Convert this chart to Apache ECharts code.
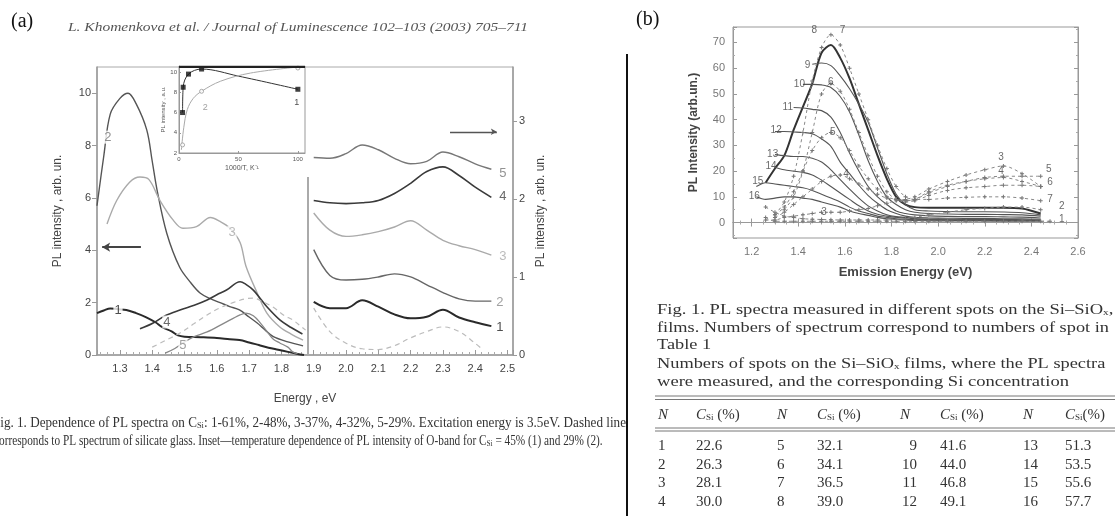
<!DOCTYPE html>
<html><head><meta charset="utf-8">
<script src="https://cdn.jsdelivr.net/npm/echarts@6/dist/echarts.min.js"></script>
<style>html,body{margin:0;padding:0;background:#fff}#c{width:1115px;height:516px}</style>
</head><body><div id="c"></div>
<script>
// ================= Panel (a): left-axis spectra (Energy eV, PL intensity) =================
const a1L = [[1.229,1.6],[1.25,1.7],[1.27,1.78],[1.294,1.75],[1.32,1.72],[1.35,1.6],[1.38,1.45],[1.41,1.25],[1.43,1.07],[1.46,0.9],[1.48,0.75],[1.50,0.7],[1.55,0.68],[1.60,0.65],[1.64,0.6],[1.67,0.57],[1.70,0.48],[1.73,0.38],[1.76,0.28],[1.79,0.2],[1.82,0.12],[1.85,0.04],[1.87,0.0]];
const a2L = [[1.229,5.7],[1.25,7.6],[1.27,9.2],[1.30,9.8],[1.325,10.0],[1.35,9.6],[1.383,8.6],[1.40,7.4],[1.415,6.3],[1.445,4.65],[1.485,3.35],[1.52,2.75],[1.548,2.37],[1.58,2.15],[1.61,2.0],[1.64,1.85],[1.67,1.72],[1.70,1.45],[1.725,1.22],[1.75,0.95],[1.775,0.7],[1.82,0.5],[1.867,0.35]];
const a3L = [[1.26,5.0],[1.29,5.9],[1.33,6.6],[1.362,6.8],[1.39,6.7],[1.424,5.9],[1.465,5.15],[1.495,4.84],[1.537,4.9],[1.58,5.25],[1.61,5.1],[1.64,4.85],[1.672,4.3],[1.69,3.4],[1.725,2.37],[1.755,1.6],[1.795,1.07],[1.83,0.8],[1.867,0.57]];
const a4L = [[1.362,1.0],[1.40,1.2],[1.44,1.5],[1.486,1.72],[1.53,1.9],[1.57,2.1],[1.60,2.3],[1.63,2.48],[1.672,2.8],[1.69,2.7],[1.713,2.48],[1.735,2.15],[1.755,1.84],[1.795,1.34],[1.83,1.05],[1.865,0.8]];
const a5L = [[1.44,0.07],[1.47,0.25],[1.50,0.5],[1.53,0.7],[1.57,0.88],[1.62,1.2],[1.672,1.53],[1.69,1.6],[1.713,1.5],[1.735,1.22],[1.755,0.9],[1.775,0.6],[1.795,0.46],[1.82,0.3],[1.835,0.12],[1.85,0.05]];
const aGlassL = [[1.40,0.3],[1.44,0.55],[1.486,0.84],[1.53,1.2],[1.57,1.53],[1.61,1.8],[1.65,2.0],[1.69,2.15],[1.713,2.17],[1.74,2.05],[1.775,1.82],[1.81,1.5],[1.835,1.34],[1.86,1.1],[1.875,0.95]];
// ================= Panel (a): right-axis spectra =================
const aER = [1.90,1.95,2.00,2.05,2.10,2.15,2.20,2.25,2.30,2.35,2.40,2.45];
const a5R = [2.53,2.52,2.58,2.69,2.63,2.52,2.45,2.48,2.60,2.54,2.45,2.38];
const a4R = [1.98,1.95,1.94,1.95,1.98,2.07,2.20,2.35,2.41,2.30,2.15,2.02];
const a3R = [1.82,1.60,1.52,1.54,1.58,1.64,1.72,1.60,1.47,1.40,1.35,1.28];
const a2R = [1.35,1.02,0.96,0.97,1.00,1.04,1.00,0.90,0.80,0.72,0.69,0.69];
const a1R = [0.68,0.60,0.60,0.70,0.62,0.52,0.47,0.49,0.58,0.48,0.42,0.37];
const aGlassER = [1.90,1.95,2.00,2.05,2.10,2.15,2.20,2.25,2.30,2.35,2.40,2.42];
const aGlassR = [0.60,0.30,0.15,0.08,0.07,0.12,0.22,0.30,0.36,0.30,0.15,0.08];
// curve number labels [E, value, text]
const aLabelsL = [[1.263,8.32,'2'],[1.647,4.69,'3'],[1.4455,1.26,'4'],[1.495,0.38,'5'],[1.294,1.72,'1']];
const aLabelsR = [[2.486,2.33,'5'],[2.486,2.03,'4'],[2.486,1.26,'3'],[2.476,0.67,'2'],[2.476,0.35,'1']];
// ================= Inset: PL intensity vs 1000/T =================
const inset1Pts = [[3,6.0],[3.5,8.5],[8,9.8],[19,10.3],[100,8.3]];
const inset1Line = [[3,6.0],[3.5,8.5],[8,9.8],[19,10.3],[50,9.6],[100,8.3]];
const inset2Pts = [[3,2.8],[19,8.1],[100,10.4]];
const inset2Line = [[2,2.3],[4,4.5],[7,6.3],[12,7.4],[19,8.1],[35,9.1],[60,9.9],[100,10.5]];
const insetLabels = [[22,6.5,'2'],[99,7.0,'1']];
// ================= Panel (b): PL spectra at 16 spots =================
const bE = [1.22,1.26,1.30,1.34,1.38,1.42,1.46,1.50,1.54,1.58,1.62,1.66,1.70,1.74,1.78,1.82,1.86,1.90,1.96,2.04,2.12,2.20,2.28,2.36,2.44,2.48];
const b8  = [null,15.5,21,26,36,45,54,66,69,64,56,46,36,26,17,10,7,6,5.8,5.8,5.8,5.8,5.8,5.5,3.5,null];
const b9  = [null,null,null,null,null,null,61.5,62,61,57,52,46,39,29,19,11,7,5,4.5,4.3,4.2,4.2,4.1,3.8,3,null];
const b10 = [null,null,null,null,null,53.7,53.7,53.5,52.5,49,43,34,24,16,10,7,5,4,3.5,3.3,3.2,3.2,3.1,3,2.5,null];
const b11 = [null,null,null,null,44.7,44.5,44,43.5,41,35,27,20,14,10,7,4.5,3.5,3,2.6,2.4,2.3,2.3,2.2,2.1,1.8,null];
const b12 = [null,null,35.4,35.4,35.2,35,34.5,32.5,29.6,23.5,19,14.5,10.5,7.5,5,3.5,2.5,2,1.8,1.7,1.6,1.6,1.5,1.5,1.3,null];
const b13 = [null,null,26.4,26,25.7,25.7,25,23.5,20.5,16.7,13,9.5,6.5,4.5,3,2.3,2,1.6,1.4,1.3,1.2,1.2,1.2,1.1,1,null];
const b14 = [null,null,21.5,20.5,20,19.5,18.5,16.5,14,11.5,9,6.5,4.5,3.2,2.5,2,1.8,1.4,1.2,1.1,1,1,1,0.9,0.8,null];
const b15 = [14,15.5,15,14.5,14,13.5,12.5,11,9.5,8,6,4.5,3.5,2.5,2,1.5,1.3,1.1,1,0.9,0.8,0.8,0.8,0.7,0.7,null];
const b16 = [10,9,9.5,10,10,9.5,9,8,7,6,4.5,3.5,2.8,2,1.5,1.2,1,0.8,0.7,0.6,0.6,0.6,0.5,0.5,0.5,null];
const b7  = [null,null,3,8,18,35,55,68,73,69,60,50,40,30,21,14,10,9,9,9.5,9.8,10,10,9.5,8.5,null];
const b6  = [null,null,null,5,10,20,35,50,54,51,44,35,26,18,12,9,8,8.5,10.5,12.5,13.5,14,14.5,14.5,14,null];
const b5  = [null,null,3,6,12,20,28,33,35,33,28,22,17,13,10,9,8.5,9,11.5,14,16,17.5,18,18,18,null];
const b4  = [null,null,2,4,7,10,13,16,18,18.5,17,15,13,11,9.5,9,8.5,9,12,14.5,16,17,17.5,16,14,null];
const b3  = [null,1,1,2,2.5,3,3.5,4,4,4,4.5,5,5.5,6.5,7.5,8.5,9,10,13,16,18.5,20.5,22,19,14,null];
const b2  = [null,6,4,2.5,2,1.5,1.3,1.2,1.1,1,1,1,1,1,1,1.2,1.5,2,3,4,5,5.5,6,6,5,null];
const b1  = [null,2,0.5,0.5,0.5,0.5,0.5,0.5,0.5,0.5,0.5,0.5,0.5,0.5,0.5,0.5,0.5,0.5,0.5,0.5,0.5,0.5,0.5,0.5,0.5,0.5];
const bLabels = [[1.469,74.6,'8'],[1.59,74.6,'7'],[1.44,61,'9'],[1.405,53.8,'10'],[1.54,54.5,'6'],[1.355,44.7,'11'],[1.305,35.7,'12'],[1.548,35,'5'],[1.29,26.6,'13'],[1.283,22,'14'],[1.605,18.8,'4'],[1.226,16.2,'15'],[1.211,10.4,'16'],[1.51,3.9,'3'],[2.27,25.2,'3'],[2.27,19.8,'4'],[2.475,20.6,'5'],[2.48,15.6,'6'],[2.48,9,'7'],[2.53,6.2,'2'],[2.53,1.2,'1']];
// ================= Table 1 =================
const tN = [[1,2,3,4],[5,6,7,8],[9,10,11,12],[13,14,15,16]];
const tC = [['22.6','26.3','28.1','30.0'],['32.1','34.1','36.5','39.0'],['41.6','44.0','46.8','49.1'],['51.3','53.5','55.6','57.7']];
const capA = ['Fig. 1. Dependence of PL spectra on C{s|Si}: 1-61%, 2-48%, 3-37%, 4-32%, 5-29%. Excitation energy is 3.5eV. Dashed line',
  'corresponds to PL spectrum of silicate glass. Inset\u2014temperature dependence of PL intensity of O-band for C{s|Si} = 45% (1) and 29% (2).'];
const capB = ['Fig. 1. PL spectra measured in different spots on the Si\u2013SiO{s|x},',
  'films. Numbers of spectrum correspond to numbers of spot in',
  'Table 1',
  'Numbers of spots on the Si\u2013SiO{s|x} films, where the PL spectra',
  'were measured, and the corresponding Si concentration'];

// ---------- helpers ----------
const cv = document.createElement('canvas').getContext('2d');
function tw(t, font){ cv.font = font; return cv.measureText(t.replace(/\{s\|([^}]*)\}/g,'$1')).width; }
const SERIF = '"Liberation Serif","DejaVu Serif",serif';
const SANS = '"Liberation Sans",Arial,sans-serif';
const plus = 'path://M3,0h2v3h3v2h-3v3h-2v-3h-3v-2h3z';
function zipE(xs, ys){ return xs.map((x,i)=>[x, ys[i]]); }
function txt(x, y, text, font, fill, align, extra){
  return Object.assign({type:'text', x, y, silent:true, z:100,
    style:{text, font, fill:fill||'#222', textAlign:align||'left', align:align||'left', textVerticalAlign:'middle', verticalAlign:'middle',
      rich:{s:{fontSize:9, fontFamily:SERIF, fill:fill||'#222', verticalAlign:'bottom', padding:[6,0,0,0]}}}}, extra||{});
}
function fitTxt(x, y, text, font, fill, width, align, cutPrefix){
  let w = tw(text, font); let cut = cutPrefix ? tw(cutPrefix, font) : 0;
  const sx = width / (w - cut);
  return txt(x, y, text, font, fill, align, {scaleX: sx});
}

const chart = echarts.init(document.getElementById('c'), null, {renderer:'canvas'});
const axCol = '#9a9a9a', txCol = '#444';

function lineS(name, data, xi, yi, color, width, opts){
  return Object.assign({type:'line', name, data, xAxisIndex:xi, yAxisIndex:yi, symbol:'none', smooth:0.35,
    lineStyle:{color, width}, itemStyle:{color}, z:3, silent:true}, opts||{});
}
function labelS(data, xi, yi, colorFn, fontSize, bg, z){
  return {type:'scatter', xAxisIndex:xi, yAxisIndex:yi, symbolSize:0, silent:true, z:z||6,
    data: data.map(d=>({name:d[2], value:[d[0],d[1]], label:{color:colorFn(d[2])}})),
    label:{show:true, position:'inside', formatter:'{b}', fontSize, fontFamily:SANS, backgroundColor:bg||'transparent', padding:[0,1]}};
}
const aLabColL = {'1':'#222','2':'#777','3':'#aaa','4':'#444','5':'#888'};
const aLabColR = {'1':'#222','2':'#888','3':'#aaa','4':'#444','5':'#777'};

const series = [
  lineS('1', a1L, 0, 0, '#2a2a2a', 2),
  lineS('2', a2L, 0, 0, '#555', 1.4),
  lineS('3', a3L, 0, 0, '#aaa', 1.4),
  lineS('4', a4L, 0, 0, '#3a3a3a', 1.6),
  lineS('5', a5L, 0, 0, '#888', 1.3),
  lineS('glass', aGlassL, 0, 0, '#bbb', 1.2, {lineStyle:{color:'#bbb', width:1.2, type:[5,4]},
    markLine:{silent:true, symbol:'none', label:{show:false}, lineStyle:{color:'#aaa', width:2, type:'solid'},
      data:[[{coord:[1.882,0]},{coord:[1.882,6.8]}]]}}),
  lineS('5R', zipE(aER,a5R), 0, 1, '#777', 1.4),
  lineS('4R', zipE(aER,a4R), 0, 1, '#3a3a3a', 1.6),
  lineS('3R', zipE(aER,a3R), 0, 1, '#aaa', 1.4),
  lineS('2R', zipE(aER,a2R), 0, 1, '#666', 1.4),
  lineS('1R', zipE(aER,a1R), 0, 1, '#2a2a2a', 2),
  lineS('glassR', zipE(aGlassER,aGlassR), 0, 1, '#bbb', 1.2, {lineStyle:{color:'#bbb', width:1.2, type:[5,4]}}),
  labelS(aLabelsL, 0, 0, t=>aLabColL[t], 13, '#fff'),
  labelS(aLabelsR, 0, 1, t=>aLabColR[t], 13, '#fff'),
  // arrows
  {type:'line', xAxisIndex:0, yAxisIndex:0, data:[], silent:true,
    markLine:{silent:true, symbolSize:[7,8], label:{show:false}, lineStyle:{color:'#444', width:2, type:'solid'},
      data:[[{coord:[1.365,4.12], symbol:'none'},{coord:[1.245,4.12], symbol:'arrow'}]]}},
  {type:'line', xAxisIndex:0, yAxisIndex:1, data:[], silent:true,
    markLine:{silent:true, symbolSize:[5,6], label:{show:false}, lineStyle:{color:'#555', width:1.3, type:'solid'},
      data:[[{coord:[2.322,2.86], symbol:'none'},{coord:[2.467,2.86], symbol:'arrow'}]]}},
  // inset
  lineS('in1', inset1Line, 1, 2, '#333', 1, {z:8}),
  lineS('in2', inset2Line, 1, 2, '#aaa', 1, {z:8}),
  {type:'scatter', xAxisIndex:1, yAxisIndex:2, data:inset1Pts, symbol:'rect', symbolSize:5, itemStyle:{color:'#111'}, silent:true, z:9},
  {type:'scatter', xAxisIndex:1, yAxisIndex:2, data:inset2Pts, symbol:'circle', symbolSize:4, itemStyle:{color:'#fff', borderColor:'#999', borderWidth:1}, silent:true, z:9},
  labelS(insetLabels, 1, 2, t=>t==='1'?'#222':'#888', 9, null, 10)
];
// panel b
const bSolid = [[8,b8],[9,b9],[10,b10],[11,b11],[12,b12],[13,b13],[14,b14],[15,b15],[16,b16]];
bSolid.forEach(([n,d])=>series.push(lineS('b'+n, zipE(bE,d), 2, 3, n===8?'#333':'#555', n===8?2:1.1, {smooth:0.3})));
const bDash = [[7,b7],[6,b6],[5,b5],[4,b4],[3,b3],[2,b2],[1,b1]];
bDash.forEach(([n,d])=>series.push(lineS('b'+n, zipE(bE,d), 2, 3, '#777', 1, {smooth:0.3, symbol:plus, symbolSize:4, showSymbol:true,
  itemStyle:{color:'#777'}, lineStyle:{color:'#888', width:1, type:[3,3]}})));
series.push(labelS(bLabels, 2, 3, ()=>'#444', 10));

// graphics
const G = [];
G.push(txt(11, 22, '(a)', '20px '+SERIF, '#111'));
G.push(txt(636, 20, '(b)', '20px '+SERIF, '#111'));
G.push(fitTxt(68, 28, 'L. Khomenkova et al. / Journal of Luminescence 102\u2013103 (2003) 705\u2013711', 'italic 12px '+SERIF, '#555', 460));
G.push({type:'line', silent:true, z:50, shape:{x1:179,y1:67,x2:305,y2:67}, style:{stroke:'#222', lineWidth:2}});
G.push({type:'line', silent:true, z:50, shape:{x1:627,y1:54,x2:627,y2:516}, style:{stroke:'#111', lineWidth:2}});
G.push(fitTxt(626, 423, capA[0], '14px '+SERIF, '#333', 626, 'right', 'Fi'));
G.push(fitTxt(-6, 441, capA[1], '14px '+SERIF, '#333', 612, 'left'));
const capBy = [310, 328, 345, 364, 382];
const capFont = '15px '+SERIF;
const capScale = 452 / tw(capB[1], capFont);
capB.forEach((t,i)=>{
  const w = [460, 452, 0, 452, 412][i];
  if (w) G.push(fitTxt(657, capBy[i], t, capFont, '#333', w, 'left'));
  else G.push(txt(657, capBy[i], t, capFont, '#333', 'left', {scaleX: capScale}));
});
// table rules
[[396],[399.5],[428],[431]].forEach(([y])=>G.push({type:'line', silent:true, z:50, shape:{x1:655,y1:y,x2:1115,y2:y}, style:{stroke:'#777', lineWidth:1}}));
const colN = [658, 777, 917, 1023], colC = [696, 817, 940, 1065];
const hdr = '{i|C}{s|Si} (%)';
for (let c=0;c<4;c++){
  G.push(txt(colN[c] + (c===2?-7:0), 415, 'N', 'italic 15px '+SERIF, '#333', c===2?'right':'left'));
  const h = txt(colC[c], 415, c===3?'{i|C}{s|Si}(%)':hdr, '15px '+SERIF, '#333', 'left');
  h.style.rich.i = {fontStyle:'italic', fontSize:15, fontFamily:SERIF, fill:'#333'};
  G.push(h);
  for (let r=0;r<4;r++){
    const y = [446, 465, 483, 502][r];
    G.push(txt(colN[c], y, String(tN[c][r]), '15px '+SERIF, '#333', c===2?'right':'left'));
    G.push(txt(colC[c], y, tC[c][r], '15px '+SERIF, '#333', 'left'));
  }
}

function xa(o){ return Object.assign({type:'value', splitLine:{show:false}, minorSplitLine:{show:false}}, o); }
const option = {
  animation:false,
  textStyle:{fontFamily:SANS},
  grid:[
    {left:97, top:67, width:416, height:288, show:true, borderColor:'#aaa', borderWidth:1, backgroundColor:'transparent'},
    {left:179, top:66, width:126, height:87, show:true, borderColor:'#999', borderWidth:1, backgroundColor:'#fff', z:4},
    {left:733, top:27, width:345, height:211, show:true, borderColor:'#999', borderWidth:1}
  ],
  xAxis:[
    xa({gridIndex:0, min:1.229, max:2.517, minInterval:0.1, maxInterval:0.1,
      axisLine:{lineStyle:{color:axCol, width:1.5}}, axisTick:{inside:true, length:5, lineStyle:{color:axCol}},
      minorTick:{show:true, splitNumber:5, length:3, lineStyle:{color:'#aaa'}},
      axisLabel:{showMinLabel:false, showMaxLabel:false, formatter:v=>v.toFixed(1), color:txCol, fontSize:11, margin:8},
      name:'Energy , eV', nameLocation:'middle', nameGap:38, nameTextStyle:{color:txCol, fontSize:12}}),
    xa({gridIndex:1, min:0, max:106, interval:50, z:5,
      axisLine:{lineStyle:{color:'#999'}}, axisTick:{inside:true, length:2, lineStyle:{color:'#999'}},
      axisLabel:{showMaxLabel:false, color:'#555', fontSize:6, margin:3},
      name:'1000/T, K\u207B\u00B9', nameLocation:'middle', nameGap:12, nameTextStyle:{color:'#555', fontSize:7}}),
    xa({gridIndex:2, min:1.12, max:2.6, minInterval:0.2, maxInterval:0.2,
      axisLine:{lineStyle:{color:'#999'}}, axisTick:{inside:true, length:4, lineStyle:{color:'#999'}},
      minorTick:{show:true, splitNumber:4, length:2, lineStyle:{color:'#aaa'}},
      axisLabel:{showMinLabel:false, formatter:v=>v.toFixed(1), color:'#777', fontSize:11, margin:8},
      name:'Emission Energy (eV)', nameLocation:'middle', nameGap:28, nameTextStyle:{color:'#444', fontSize:13, fontWeight:'bold'}}),
    xa({gridIndex:2, min:1.12, max:2.6, minInterval:0.2, maxInterval:0.2, position:'top',
      axisLine:{lineStyle:{color:'#999'}}, axisTick:{inside:true, length:4, lineStyle:{color:'#999'}},
      minorTick:{show:true, splitNumber:4, length:2, lineStyle:{color:'#aaa'}}, axisLabel:{show:false}})
  ],
  yAxis:[
    xa({gridIndex:0, min:0, max:11, interval:2, position:'left',
      axisLine:{show:true, lineStyle:{color:axCol, width:1.5}}, axisTick:{show:true, length:5, lineStyle:{color:axCol}},
      axisLabel:{showMaxLabel:false, color:txCol, fontSize:11, margin:6},
      name:'PL intensity , arb. un.', nameLocation:'middle', nameGap:33, nameRotate:90, nameTextStyle:{color:txCol, fontSize:12}}),
    xa({gridIndex:0, min:0, max:3.69, interval:1, position:'right',
      axisLine:{show:true, lineStyle:{color:axCol, width:1.5}}, axisTick:{show:true, length:4, lineStyle:{color:axCol}},
      axisLabel:{showMaxLabel:false, color:txCol, fontSize:11, margin:6},
      name:'PL intensity , arb. un.', nameLocation:'middle', nameGap:22, nameRotate:90, nameTextStyle:{color:txCol, fontSize:12}}),
    xa({gridIndex:1, min:2, max:10.6, interval:2, z:5,
      axisLine:{show:true, lineStyle:{color:'#999'}}, axisTick:{inside:true, length:2, lineStyle:{color:'#999'}},
      axisLabel:{showMaxLabel:false, color:'#555', fontSize:6, margin:2},
      name:'PL intensity , a.u.', nameLocation:'middle', nameGap:12, nameRotate:90, nameTextStyle:{color:'#555', fontSize:6}}),
    xa({gridIndex:2, min:-6, max:76, minInterval:10, maxInterval:10,
      axisLine:{show:true, lineStyle:{color:'#999'}}, axisTick:{inside:true, length:4, lineStyle:{color:'#999'}},
      minorTick:{show:true, splitNumber:2, length:2, lineStyle:{color:'#aaa'}},
      axisLabel:{showMinLabel:false, showMaxLabel:false, color:'#777', fontSize:11, margin:8},
      name:'PL Intensity (arb.un.)', nameLocation:'middle', nameGap:33, nameRotate:90, nameTextStyle:{color:'#444', fontSize:12, fontWeight:'bold'}}),
    xa({gridIndex:2, min:-6, max:76, minInterval:10, maxInterval:10, position:'right',
      axisLine:{show:true, lineStyle:{color:'#999'}}, axisTick:{inside:true, length:4, lineStyle:{color:'#999'}},
      minorTick:{show:true, splitNumber:2, length:2, lineStyle:{color:'#aaa'}}, axisLabel:{show:false}})
  ],
  series,
  graphic:{elements:G}
};
chart.setOption(option);
</script></body></html>
